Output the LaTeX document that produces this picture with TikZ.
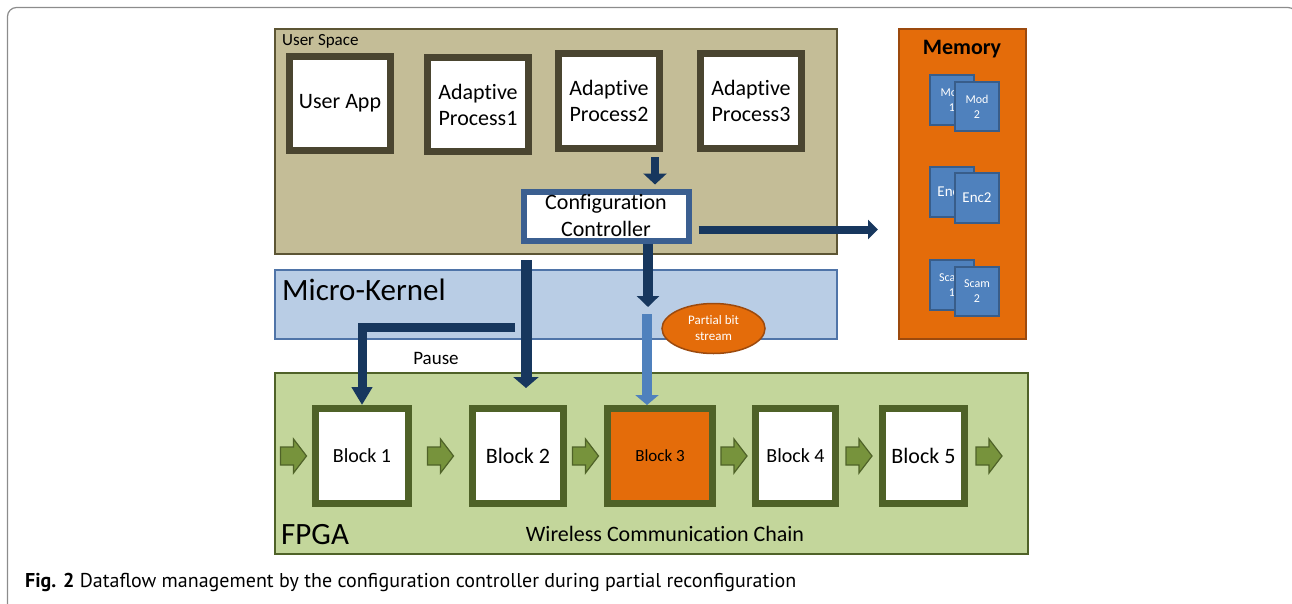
\documentclass[tikz,border=0pt]{standalone}
\usepackage{fontspec}
\setmainfont{Carlito}[Ligatures={NoCommon,NoContextual}]
\newfontfamily\capfont{PT Sans}
\usetikzlibrary{arrows.meta,calc,shapes.geometric}

\definecolor{usrfill}{HTML}{C4BD97}
\definecolor{usredge}{HTML}{5C5534}
\definecolor{procline}{HTML}{4A4530}
\definecolor{mkfill}{HTML}{B9CDE5}
\definecolor{mkline}{HTML}{4F74A8}
\definecolor{memfill}{HTML}{E46C0A}
\definecolor{memline}{HTML}{9C4A0E}
\definecolor{modfill}{HTML}{4F81BD}
\definecolor{modline}{HTML}{385D8A}
\definecolor{fpgafill}{HTML}{C3D69B}
\definecolor{fpgaline}{HTML}{4F6228}
\definecolor{flowfill}{HTML}{77933C}
\definecolor{ccline}{HTML}{3B5F90}
\definecolor{navy}{HTML}{17375E}
\definecolor{bitblue}{HTML}{4F81BD}
\definecolor{framegray}{HTML}{8C8C8C}

\tikzset{
  layer/.style={line width=2pt, anchor=north west, inner sep=0pt},
  procbox/.style={draw=procline, fill=white, line width=7pt, minimum width=101pt, minimum height=94pt, inner sep=0pt, align=center, font=\fontsize{22}{26}\selectfont},
  blockbox/.style={draw=fpgaline, fill=white, line width=7pt, minimum height=95pt, inner sep=0pt},
  modcard/.style={draw=modline, fill=modfill, line width=2pt, minimum width=44pt, minimum height=50pt, inner sep=0pt, align=center, text=white, font=\fontsize{12}{15}\selectfont},
  ctlarrow/.style={draw=navy, line width=10pt, -{Triangle[width=23pt,length=11pt]}},
  flowarrow/.pic={\draw[fpgaline, fill=flowfill, line width=1.2pt] (-13,-9) -- (0,-9) -- (0,-17) -- (13,0) -- (0,17) -- (0,9) -- (-13,9) -- cycle;},
}

\begin{document}
\begin{tikzpicture}[x=1pt,y=1pt,yscale=-1,xscale=1]
\useasboundingbox (0,0) rectangle (1292,603);

%Shape: figure frame
\draw[framegray, line width=1.2pt, rounded corners=9pt] (7.5,640) -- (7.5,7.5) -- (1297,7.5) -- (1297,640);

%Shape: layers
\node[layer, draw=usredge, fill=usrfill, minimum width=562pt, minimum height=225pt] (usr) at (274,28) {};
\node[layer, draw=mkline, fill=mkfill, minimum width=562pt, minimum height=69pt] (mk) at (274,269) {};
\node[layer, draw=memline, fill=memfill, minimum width=127pt, minimum height=310pt] (mem) at (898,28) {};
\node[layer, draw=fpgaline, fill=fpgafill, minimum width=753pt, minimum height=181pt] (fpga) at (274,372) {};

% Text Node
\node[anchor=west, font=\fontsize{17}{20}\selectfont, inner sep=0pt] (usrlbl) at (282,41) {User Space};
\node[anchor=west, font=\fontsize{31}{36}\selectfont, inner sep=0pt] (mklbl) at (282,290) {Micro-Kernel};
\node[anchor=west, font=\fontsize{31}{36}\selectfont, inner sep=0pt] (fpgalbl) at (281,535) {FPGA};
\node[font=\fontsize{22}{26}\selectfont, inner sep=0pt] (chainlbl) at (665,534) {Wireless Communication Chain};
\node[font=\bfseries\fontsize{22}{26}\selectfont, inner sep=0pt] (memlbl) at (962,49) {Memory};

%Shape: user processes
\node[procbox] (app) at (340,103.5) {User App};
\node[procbox] (ap1) at (478,104.5) {Adaptive\\Process1};
\node[procbox, minimum height=95pt] (ap2) at (609,100.5) {Adaptive\\Process2};
\node[procbox, minimum height=95pt] (ap3) at (751,100.5) {Adaptive\\Process3};

%Shape: configuration controller
\node[draw=ccline, fill=white, line width=6pt, minimum width=165pt, minimum height=49pt, inner sep=0pt, align=center, font=\fontsize{22}{27}\selectfont] (cc) at (606,216) {Configuration\\Controller};

%Shape: memory modules
\node[modcard] (mod1) at (952,100) {Mod\\1};
\node[modcard, minimum height=49pt] (mod2) at (977,106.5) {Mod\\2};
\node[modcard, font=\fontsize{15}{18}\selectfont] (enc1) at (952,192) {Enc1};
\node[modcard, font=\fontsize{15}{18}\selectfont] (enc2) at (977,198) {Enc2};
\node[modcard] (scam1) at (952,285) {Scam\\1};
\node[modcard, minimum height=49pt] (scam2) at (977,291.5) {Scam\\2};

%Shape: partial bit stream
\node[ellipse, draw=memline, fill=memfill, line width=1.5pt, minimum width=103pt, minimum height=50pt, inner sep=0pt, align=center, text=white, font=\fontsize{13}{16}\selectfont] (pbs) at (713.5,328.5) {Partial bit\\stream};

%Shape: chain blocks
\node[blockbox, minimum width=93pt, font=\fontsize{20}{24}\selectfont] (blk1) at (362,456) {Block 1};
\node[blockbox, minimum width=91pt, font=\fontsize{22}{26}\selectfont] (blk2) at (518,456) {Block 2};
\node[blockbox, minimum width=105pt, fill=memfill, font=\fontsize{17}{20}\selectfont] (blk3) at (660,456) {Block 3};
\node[blockbox, minimum width=80pt, font=\fontsize{20}{24}\selectfont] (blk4) at (795.5,456) {Block 4};
\node[blockbox, minimum width=82pt, font=\fontsize{22}{26}\selectfont] (blk5) at (923.5,456) {Block 5};

%Shape: chain arrows
\pic at ($(blk1.west)+(-18.5,0)$) {flowarrow};
\pic at ($(blk1.east)!0.5!(blk2.west)$) {flowarrow};
\pic at ($(blk2.east)!0.5!(blk3.west)$) {flowarrow};
\pic at ($(blk3.east)!0.5!(blk4.west)$) {flowarrow};
\pic at ($(blk4.east)!0.5!(blk5.west)$) {flowarrow};
\pic at ($(blk5.east)+(21,0)$) {flowarrow};

%Straight Lines: control flow
\coordinate (ap2out) at (655,157);
\coordinate (ccdown) at (648,307);
\coordinate (pbin) at (647,314);
\coordinate (pausein) at (526,260);
\coordinate (pausetip) at (526,388);
\coordinate (pausefrom) at (515,327);
\coordinate (memin) at (878,229.5);

\draw[ctlarrow, line width=8pt] (ap2out) -- (ap2out |- cc.north) [shorten >=4pt];
\draw[ctlarrow, line width=10pt, -{Triangle[width=22pt,length=11pt]}] (ccdown |- cc.south) -- (ccdown);
\draw[ctlarrow, draw=bitblue, -{Triangle[width=23pt,length=10pt]}] (pbin) -- (pbin |- blk3.north);
\draw[ctlarrow, line width=11pt, -{Triangle[width=25pt,length=11pt]}] (pausein) -- (pausetip);
\draw[ctlarrow, line width=9pt, -{Triangle[width=20pt,length=18pt]}] (pausefrom) -| (blk1.north);
\draw[ctlarrow, line width=8pt, -{Triangle[width=19pt,length=10pt]}, shorten <=7pt] (cc.east |- memin) -- (memin);

% Text Node
\node[font=\fontsize{19}{22}\selectfont, inner sep=0pt] (pauselbl) at (436,358) {Pause};

% Caption
\node[anchor=west, inner sep=0pt, font=\capfont\fontsize{20}{24}\selectfont] (cap) at (25,582) {\textbf{Fig. 2} Dataflow management by the configuration controller during partial reconfiguration};

\end{tikzpicture}
\end{document}
